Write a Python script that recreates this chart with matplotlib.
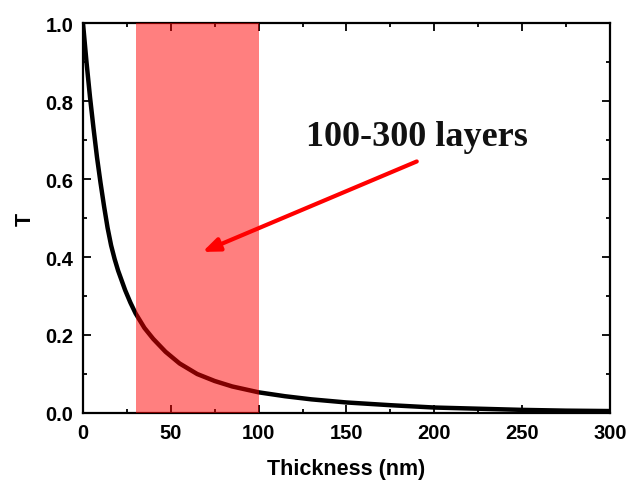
import numpy as np
import matplotlib.pyplot as plt
from matplotlib.ticker import MultipleLocator

# curve
thickness = [0, 2, 4, 6, 8, 10, 12, 14, 16, 18, 20, 22, 24, 27, 30, 35, 40, 47,
             55, 65, 75, 85, 100, 115, 130, 150, 175, 200, 225, 250, 275, 300]
transmit = [1.0, 0.9, 0.81, 0.73, 0.655, 0.59, 0.53, 0.475, 0.43, 0.395, 0.365,
            0.34, 0.315, 0.283, 0.255, 0.218, 0.19, 0.157, 0.127, 0.1, 0.082,
            0.068, 0.053, 0.043, 0.035, 0.027, 0.02, 0.014, 0.011, 0.008,
            0.006, 0.005]

band = [30, 100]
note_text = '100-300 layers'
note_xy = (68, 0.413)
note_tail = (190, 0.645)

plt.rcParams['font.family'] = ['Liberation Sans', 'DejaVu Sans']

fig = plt.figure(figsize=(6.31, 4.85), dpi=100)
ax = fig.add_axes([0.1315, 0.1464, 0.8352, 0.8041])

ax.plot(thickness, transmit, color='black', lw=3.2, zorder=2,
        solid_capstyle='butt')
ax.axvspan(band[0], band[1], color='#ff0000', alpha=0.5, lw=0, zorder=3)

ax.annotate('', xy=note_xy, xytext=note_tail,
            arrowprops=dict(arrowstyle='-|>,head_length=1.0,head_width=0.4',
                            color='#ff0000', lw=3, shrinkA=0, shrinkB=0),
            zorder=4)
ax.text(190, 0.71, note_text, fontsize=26, fontweight='bold',
        family=['Liberation Serif'], ha='center', va='center', color='#111111')

ax.set_xlim(0, 300)
ax.set_ylim(0, 1.0)
ax.xaxis.set_major_locator(MultipleLocator(50))
ax.xaxis.set_minor_locator(MultipleLocator(25))
ax.yaxis.set_major_locator(MultipleLocator(0.2))
ax.yaxis.set_minor_locator(MultipleLocator(0.1))
ax.yaxis.set_major_formatter(plt.FormatStrFormatter('%.1f'))

ax.tick_params(which='both', direction='in', top=True, right=True, width=1.3)
ax.tick_params(which='major', length=6, labelsize=14.5, pad=7)
ax.tick_params(which='minor', length=3)
for lab in ax.get_xticklabels() + ax.get_yticklabels():
    lab.set_fontweight('bold')
for sp in ax.spines.values():
    sp.set_linewidth(1.6)

ax.set_xlabel('Thickness (nm)', fontsize=15.5, fontweight='bold', labelpad=12)
ax.set_ylabel('T', fontsize=15.5, fontweight='bold', labelpad=7)

fig.savefig('out.png', dpi=100)
